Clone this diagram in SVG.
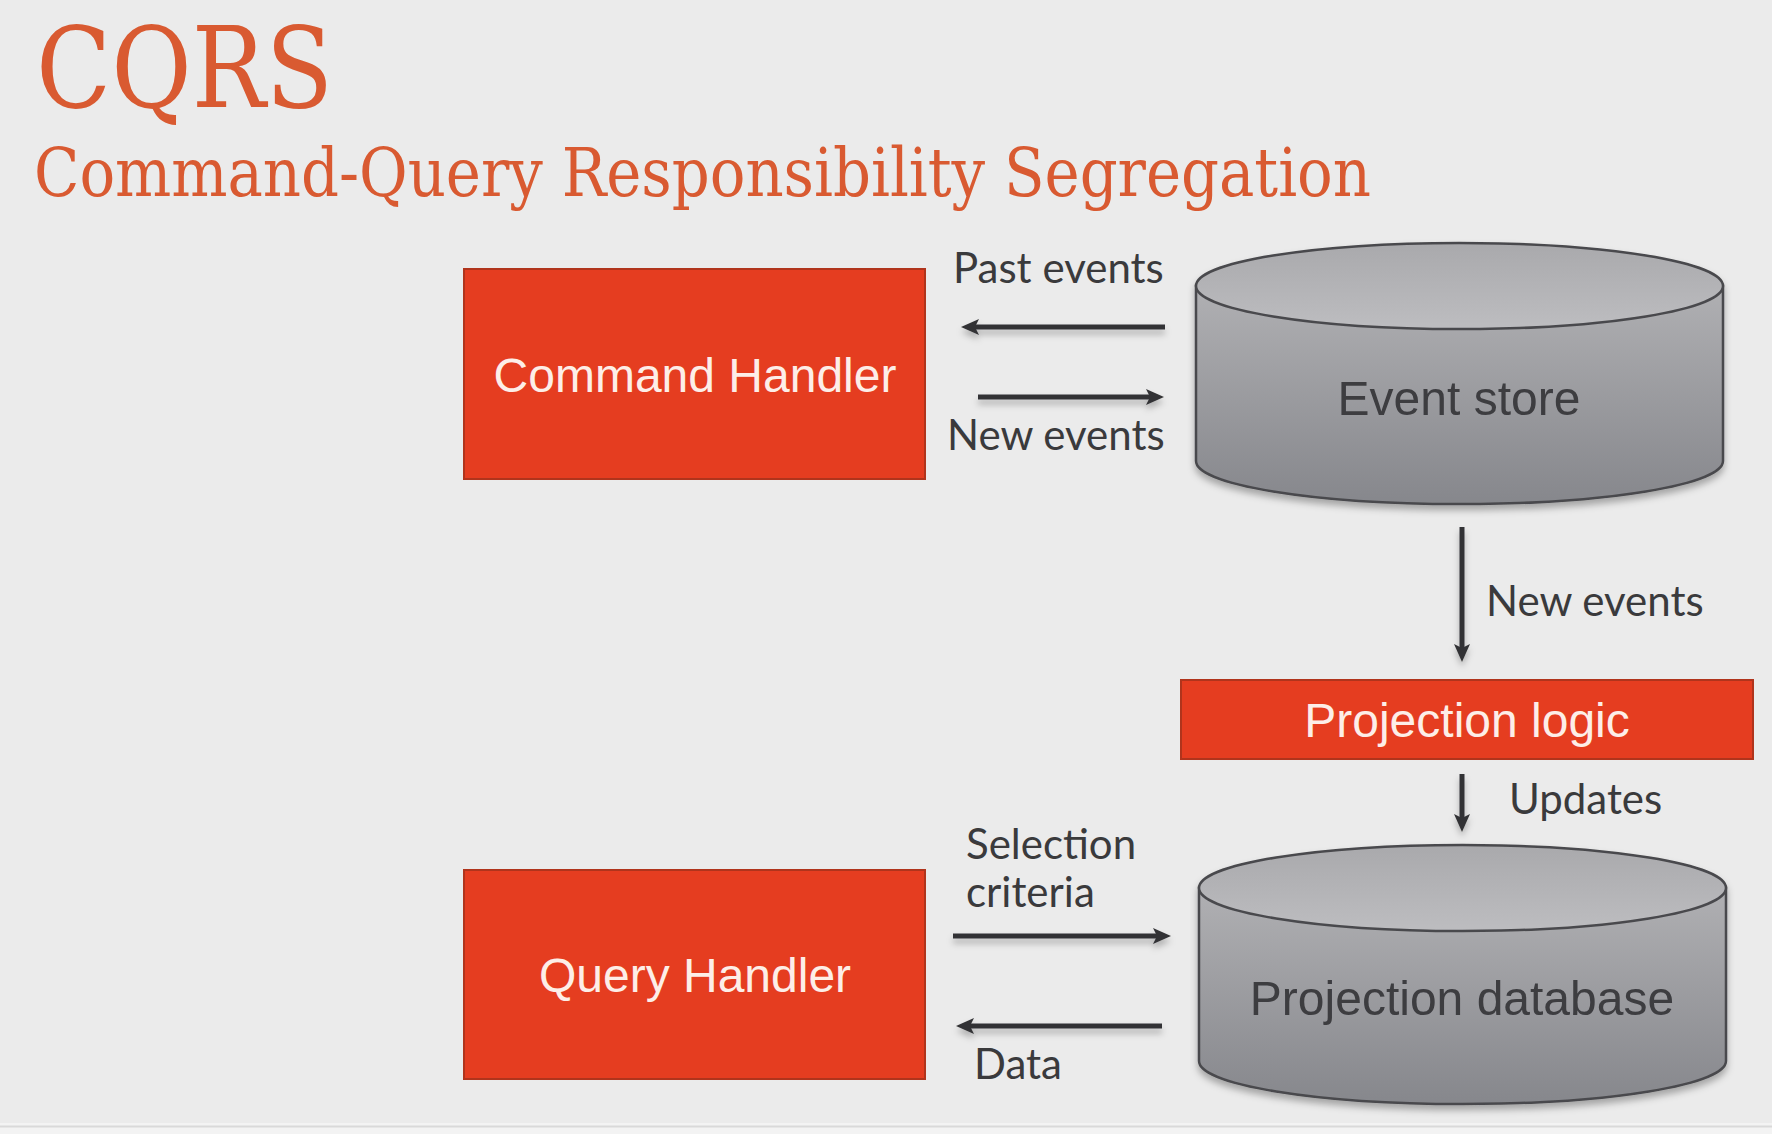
<svg xmlns="http://www.w3.org/2000/svg" width="1772" height="1134" viewBox="0 0 1772 1134">
<style>
.title{font-family:"DejaVu Serif Condensed","DejaVu Serif",serif;fill:#d95a31;}
.box{fill:#e53d20;stroke:#b0341c;stroke-width:2;}
.boxtxt{font-family:"Liberation Sans",Arial,sans-serif;font-size:48px;fill:#fdeee8;text-anchor:middle;}
.cyltxt{font-family:"Liberation Sans",Arial,sans-serif;font-size:48px;fill:#3c3c40;text-anchor:middle;}
.lbl{font-family:Lato,"Noto Sans",sans-serif;font-size:42px;fill:#3a3a3c;}
.cylbody{fill:url(#bodyGrad);stroke:#4a4a4d;stroke-width:2.5;}
.cyltop{fill:url(#topGrad);stroke:#4a4a4d;stroke-width:2.5;}
.arrow{stroke:#333336;stroke-width:5;fill:none;marker-end:url(#head);}
</style>
<defs>
<marker id="head" markerUnits="userSpaceOnUse" markerWidth="20" markerHeight="18" refX="10" refY="8" orient="auto">
<path d="M0,0 L18,8 L0,16 L4,8 Z" fill="#333336"/>
</marker>
<linearGradient id="bodyGrad" x1="0" y1="0" x2="0" y2="1">
<stop offset="0" stop-color="#b0b0b3"/>
<stop offset="1" stop-color="#86878c"/>
</linearGradient>
<linearGradient id="topGrad" x1="0" y1="0" x2="0" y2="1">
<stop offset="0" stop-color="#a9a9ac"/>
<stop offset="1" stop-color="#bdbdc0"/>
</linearGradient>
<filter id="shadow" x="-10%" y="-10%" width="120%" height="130%">
<feDropShadow dx="0" dy="5" stdDeviation="3.5" flood-color="#000" flood-opacity="0.3"/>
</filter>
<filter id="ashadow" x="-10%" y="-50%" width="120%" height="250%">
<feDropShadow dx="0" dy="5" stdDeviation="3" flood-color="#000" flood-opacity="0.25"/>
</filter>
</defs>
<rect x="0" y="0" width="1772" height="1134" fill="#ebebeb"/>
<rect x="0" y="1123" width="1772" height="11" fill="#f3f3f3"/>
<line x1="0" y1="1126.5" x2="1772" y2="1126.5" stroke="#d9d9d9" stroke-width="2"/>

<g id="title">
<text class="title" x="36" y="107" font-size="112" textLength="297" lengthAdjust="spacingAndGlyphs">CQRS</text>
<text class="title" x="34" y="196" font-size="68" textLength="1337" lengthAdjust="spacingAndGlyphs">Command-Query Responsibility Segregation</text>
</g>

<g id="command-handler">
<rect class="box" x="464" y="269" width="461" height="210"/>
<text class="boxtxt" x="695" y="392">Command Handler</text>
</g>

<g id="event-store" filter="url(#shadow)">
<path class="cylbody" d="M1196,286 L1196,461 A263.5,43 0 0 0 1723,461 L1723,286 Z"/>
<ellipse class="cyltop" cx="1459.5" cy="286" rx="263.5" ry="43"/>
<text class="cyltxt" x="1459" y="415">Event store</text>
</g>

<g id="projection-logic">
<rect class="box" x="1181" y="680" width="572" height="79"/>
<text class="boxtxt" x="1467" y="737">Projection logic</text>
</g>

<g id="projection-database" filter="url(#shadow)">
<path class="cylbody" d="M1199,888 L1199,1061 A263.5,43 0 0 0 1726,1061 L1726,888 Z"/>
<ellipse class="cyltop" cx="1462.5" cy="888" rx="263.5" ry="43"/>
<text class="cyltxt" x="1462" y="1015">Projection database</text>
</g>

<g id="query-handler">
<rect class="box" x="464" y="870" width="461" height="209"/>
<text class="boxtxt" x="695" y="992">Query Handler</text>
</g>

<g id="connectors">
<g filter="url(#ashadow)">
<line class="arrow" x1="1165" y1="327" x2="969" y2="327"/>
<line class="arrow" x1="978" y1="397" x2="1156" y2="397"/>
<line class="arrow" x1="1462" y1="527" x2="1462" y2="654"/>
<line class="arrow" x1="1462" y1="774" x2="1462" y2="824"/>
<line class="arrow" x1="953" y1="936" x2="1163" y2="936"/>
<line class="arrow" x1="1162" y1="1026" x2="964" y2="1026"/>
</g>
<text class="lbl" x="953" y="283">Past events</text>
<text class="lbl" x="947" y="450">New events</text>
<text class="lbl" x="1486" y="616">New events</text>
<text class="lbl" x="1509" y="814">Updates</text>
<text class="lbl" x="966" y="859">Selection</text>
<text class="lbl" x="966" y="907">criteria</text>
<text class="lbl" x="974" y="1079">Data</text>
</g>
</svg>
